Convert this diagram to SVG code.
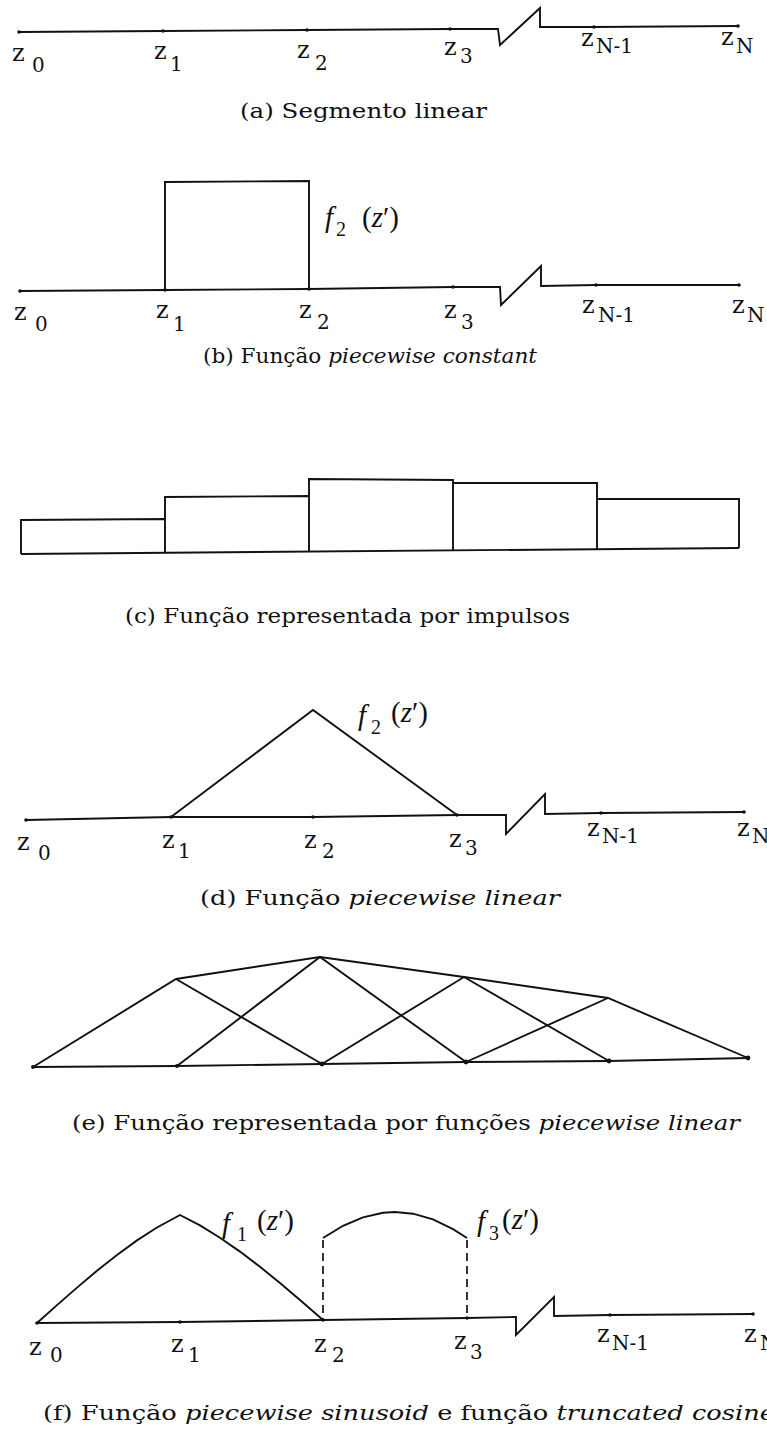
<svg xmlns="http://www.w3.org/2000/svg" width="767" height="1430" viewBox="0 0 767 1430">
<style>
.ln{fill:none;stroke:#111;stroke-width:1.9;stroke-linejoin:miter}
.dash{fill:none;stroke:#111;stroke-width:1.7;stroke-dasharray:8 5}
.tk{fill:#111}
.z{font-family:"DejaVu Serif","Liberation Serif",serif;font-size:24px;fill:#111}
.s{font-size:20px}
.cap{font-family:"DejaVu Serif","Liberation Serif",serif;font-size:21px;fill:#111}
.it{font-style:italic}
.fl{font-family:"Liberation Serif","DejaVu Serif",serif;font-size:29px;fill:#111}
.fs{font-size:20px;font-style:normal}
</style>
<rect width="767" height="1430" fill="#fff"/>

<g id="panel-a">
  <path class="ln" d="M19,32 L163,31 L307,30 L450,29 L498,29 L500,45 L540,8 L540,27 L594,27 L738,26"/>
  <g class="tk"><circle cx="19" cy="32" r="1.8"/><circle cx="163" cy="31" r="1.8"/><circle cx="307" cy="30" r="1.8"/><circle cx="450" cy="29" r="1.8"/><circle cx="594" cy="27" r="1.8"/><circle cx="738" cy="26" r="1.8"/></g>
  <text class="z" x="12" y="61">z<tspan class="s" x="32" y="72">0</tspan></text>
  <text class="z" x="154" y="59">z<tspan class="s" x="170" y="71">1</tspan></text>
  <text class="z" x="297" y="58">z<tspan class="s" x="315" y="70">2</tspan></text>
  <text class="z" x="444" y="55">z<tspan class="s" x="460" y="63">3</tspan></text>
  <text class="z" x="581" y="46">z<tspan class="s" x="596" y="53">N-1</tspan></text>
  <text class="z" x="721" y="45">z<tspan class="s" x="736" y="53">N</tspan></text>
  <text class="cap" x="240" y="118" textLength="247" lengthAdjust="spacingAndGlyphs">(a) Segmento linear</text>
</g>

<g id="panel-b">
  <path class="ln" d="M20,291 L165,290 L309,289 L453,287 L500,287 L501,305 L541,266 L541,286 L596,285 L739,285"/>
  <path class="ln" d="M165,290 L165,182 L309,181 L309,289"/>
  <g class="tk"><circle cx="20" cy="291" r="1.8"/><circle cx="165" cy="290" r="1.8"/><circle cx="309" cy="289" r="1.8"/><circle cx="453" cy="287" r="1.8"/><circle cx="596" cy="285" r="1.8"/><circle cx="739" cy="285" r="1.8"/></g>
  <text class="fl" x="325" y="227"><tspan class="it">f</tspan><tspan class="fs" x="336" y="236">2</tspan><tspan x="362" y="227">(</tspan><tspan class="it">z</tspan>′)</text>
  <text class="z" x="14" y="320">z<tspan class="s" x="35" y="331">0</tspan></text>
  <text class="z" x="156" y="318">z<tspan class="s" x="173" y="331">1</tspan></text>
  <text class="z" x="299" y="318">z<tspan class="s" x="317" y="329">2</tspan></text>
  <text class="z" x="444" y="318">z<tspan class="s" x="461" y="329">3</tspan></text>
  <text class="z" x="582" y="313">z<tspan class="s" x="598" y="322">N-1</tspan></text>
  <text class="z" x="732" y="313">z<tspan class="s" x="747" y="322">N</tspan></text>
  <text class="cap" x="203" y="363" textLength="334" lengthAdjust="spacingAndGlyphs">(b) Função <tspan class="it">piecewise constant</tspan></text>
</g>

<g id="panel-c">
  <path class="ln" d="M21,554 L739,548"/>
  <path class="ln" d="M21,554 L21,520 L165,519 L165,553"/>
  <path class="ln" d="M165,519 L165,497 L309,496 L309,552"/>
  <path class="ln" d="M309,496 L309,479 L453,480 L453,550"/>
  <path class="ln" d="M453,483 L597,483 L597,549"/>
  <path class="ln" d="M597,499 L739,499 L739,548"/>
  <text class="cap" x="125" y="623" textLength="445" lengthAdjust="spacingAndGlyphs">(c) Função representada por impulsos</text>
</g>

<g id="panel-d">
  <path class="ln" d="M26,820 L171,817 L313,817 L457,815 L506,815 L506,834 L545,794 L545,814 L601,813 L744,812"/>
  <path class="ln" d="M171,817 L313,710 L457,815"/>
  <g class="tk"><circle cx="26" cy="820" r="1.8"/><circle cx="171" cy="817" r="1.8"/><circle cx="313" cy="817" r="1.8"/><circle cx="457" cy="815" r="1.8"/><circle cx="601" cy="813" r="1.8"/><circle cx="744" cy="812" r="1.8"/></g>
  <text class="fl" x="358" y="725"><tspan class="it">f</tspan><tspan class="fs" x="371" y="734">2</tspan><tspan x="391" y="722">(</tspan><tspan class="it">z</tspan>′)</text>
  <text class="z" x="17" y="850">z<tspan class="s" x="38" y="860">0</tspan></text>
  <text class="z" x="162" y="848">z<tspan class="s" x="178" y="858">1</tspan></text>
  <text class="z" x="304" y="848">z<tspan class="s" x="322" y="858">2</tspan></text>
  <text class="z" x="449" y="847">z<tspan class="s" x="465" y="855">3</tspan></text>
  <text class="z" x="587" y="836">z<tspan class="s" x="602" y="843">N-1</tspan></text>
  <text class="z" x="737" y="836">z<tspan class="s" x="752" y="843">N</tspan></text>
  <text class="cap" x="200" y="905" textLength="360" lengthAdjust="spacingAndGlyphs">(d) Função <tspan class="it">piecewise linear</tspan></text>
</g>

<g id="panel-e">
  <path class="ln" d="M33,1067 L177,1066 L322,1064 L466,1062 L609,1061 L748,1058"/>
  <path class="ln" d="M33,1067 L176,979 L320,957 L464,977 L608,998 L748,1058"/>
  <path class="ln" d="M176,979 L322,1064"/>
  <path class="ln" d="M177,1066 L320,957 L466,1062"/>
  <path class="ln" d="M322,1064 L464,977 L609,1061"/>
  <path class="ln" d="M466,1062 L608,998"/>
  <g class="tk"><circle cx="33" cy="1067" r="2"/><circle cx="177" cy="1066" r="2"/><circle cx="322" cy="1064" r="2.4"/><circle cx="466" cy="1062" r="2.4"/><circle cx="609" cy="1061" r="2.4"/><circle cx="748" cy="1058" r="2.4"/></g>
  <text class="cap" x="72" y="1130" textLength="668" lengthAdjust="spacingAndGlyphs">(e) Função representada por funções <tspan class="it">piecewise linear</tspan></text>
</g>

<g id="panel-f">
  <path class="ln" d="M37,1323 L180,1322 L323,1320 L467,1318 L516,1317 L516,1335 L554,1297 L554,1316 L610,1315 L753,1314"/>
  <path class="ln" d="M37,1323 L57,1305.1 L77,1287.6 L97,1270.7 L117,1254.9 L137,1240.4 L157,1227.5 L180,1215 L200,1225.4 L220,1237.7 L240,1251.6 L260,1266.8 L280,1283 L300,1300 L323,1320"/>
  <path class="ln" d="M323,1238 L343,1225.8 L363,1217.3 L383,1212.8 L395,1212 L413,1213.7 L433,1219.4 L453,1229.1 L467,1238"/>
  <path class="dash" d="M323,1240 L323,1320"/>
  <path class="dash" d="M467,1240 L467,1318"/>
  <g class="tk"><circle cx="37" cy="1323" r="1.8"/><circle cx="180" cy="1322" r="1.8"/><circle cx="323" cy="1320" r="1.8"/><circle cx="467" cy="1318" r="1.8"/><circle cx="610" cy="1315" r="1.8"/><circle cx="753" cy="1314" r="1.8"/></g>
  <text class="fl" x="222" y="1233"><tspan class="it">f</tspan><tspan class="fs" x="237" y="1241">1</tspan><tspan x="257" y="1230">(</tspan><tspan class="it">z</tspan>′)</text>
  <text class="fl" x="477" y="1231"><tspan class="it">f</tspan><tspan class="fs" x="489" y="1240">3</tspan><tspan x="502" y="1229">(</tspan><tspan class="it">z</tspan>′)</text>
  <text class="z" x="29" y="1355">z<tspan class="s" x="50" y="1362">0</tspan></text>
  <text class="z" x="171" y="1352">z<tspan class="s" x="188" y="1362">1</tspan></text>
  <text class="z" x="314" y="1352">z<tspan class="s" x="332" y="1362">2</tspan></text>
  <text class="z" x="454" y="1349">z<tspan class="s" x="470" y="1359">3</tspan></text>
  <text class="z" x="597" y="1342">z<tspan class="s" x="612" y="1350">N-1</tspan></text>
  <text class="z" x="744" y="1342">z<tspan class="s" x="760" y="1350">N</tspan></text>
  <text class="cap" x="43" y="1420" textLength="732" lengthAdjust="spacingAndGlyphs">(f) Função <tspan class="it">piecewise sinusoid</tspan> e função <tspan class="it">truncated cosine</tspan></text>
</g>
</svg>
